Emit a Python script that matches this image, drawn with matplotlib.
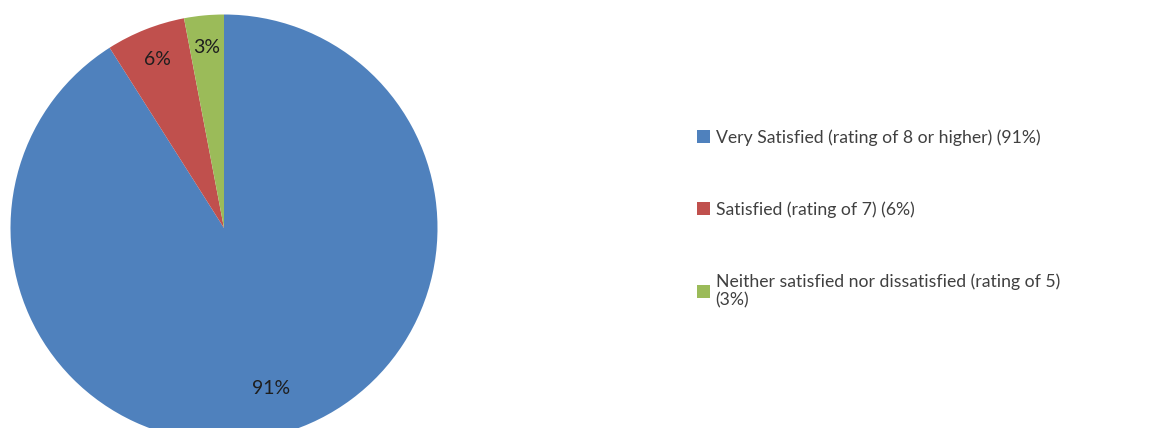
import matplotlib
matplotlib.use("Agg")
import matplotlib.pyplot as plt

# satisfaction shares, clockwise from 12 o'clock
labels = [
    "Very Satisfied (rating of 8 or higher) (91%)",
    "Satisfied (rating of 7) (6%)",
    "Neither satisfied nor dissatisfied (rating of 5)\n(3%)",
]
values = [91, 6, 3]
colors = ["#4F81BD", "#C0504D", "#9BBB59"]

plt.rcParams["font.family"] = ["Lato", "DejaVu Sans"]

fig = plt.figure(figsize=(11.56, 4.28), dpi=100)
ax = fig.add_axes([10.5 / 1156, -13.5 / 428, 427 / 1156, 427 / 428])

wedges, texts, autotexts = ax.pie(
    values, colors=colors, startangle=90, counterclock=False,
    autopct="%d%%", pctdistance=0.85, radius=1.0,
    textprops={"fontsize": 14, "color": "#1e1e1e"},
    wedgeprops={"linewidth": 0},
)
# big slice label sits a bit further in
x, y = autotexts[0].get_position()
autotexts[0].set_position((x * 0.92, y * 0.92))

ax.set_xlim(-1, 1)
ax.set_ylim(-1, 1)
ax.set_aspect("equal")

fig.legend(
    wedges, labels, loc="upper left", bbox_to_anchor=(697 / 1156, 1 - 129 / 428),
    frameon=False, fontsize=12.7, handlelength=0.75, handleheight=0.75,
    handletextpad=0.3, labelspacing=3.15, borderpad=0, borderaxespad=0,
    labelcolor="#404040",
)

fig.savefig("out.png", dpi=100)
